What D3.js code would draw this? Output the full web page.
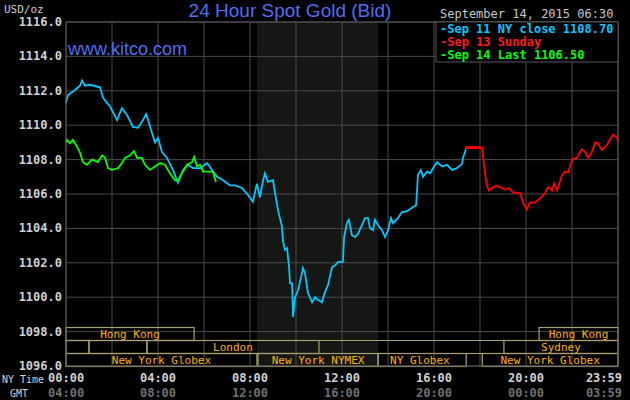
<!DOCTYPE html>
<html><head><meta charset="utf-8">
<script src="https://cdn.jsdelivr.net/npm/d3@7"></script>
<style>body{margin:0;background:#000}svg{display:block}</style>
</head><body><svg id="c" width="630" height="400"></svg>
<script>
// values: [hour of NY day, price]
var sep11 = [[0,1111.3],[.09,1111.75],[.39,1112.05],[.61,1112.3],[.70,1112.6],[.83,1112.3],[1.04,1112.35],[1.48,1112.2],
  [1.61,1111.6],[1.78,1111.3],[1.91,1111.1],[2.22,1110.3],[2.43,1111.0],[2.65,1110.6],[2.91,1109.9],[3.13,1109.85],
  [3.35,1110.3],[3.48,1110.65],[3.57,1110.3],[3.74,1109.55],[3.87,1109.0],[4.0,1109.25],[4.17,1108.45],[4.39,1108.1],
  [4.65,1107.4],[4.87,1106.65],[5.09,1107.4],[5.3,1107.7],[5.52,1107.5],[5.83,1107.5],[6.13,1107.8],[6.35,1107.4],
  [6.57,1107.0],[6.83,1106.8],[7.13,1106.5],[7.35,1106.5],[7.65,1106.35],[7.91,1105.95],[8.13,1105.55],[8.30,1106.6],
  [8.43,1105.8],[8.57,1106.8],[8.65,1107.2],[8.78,1106.7],[9.0,1106.8],[9.09,1106.05],[9.22,1105.05],[9.39,1104.1],
  [9.43,1103.3],[9.52,1102.75],[9.61,1102.85],[9.65,1102.35],[9.70,1101.75],[9.74,1100.8],[9.83,1100.8],[9.87,1098.85],
  [9.96,1100.0],[10.09,1100.4],[10.26,1101.4],[10.30,1101.7],[10.39,1101.4],[10.52,1100.25],[10.70,1099.7],[10.83,1100.0],
  [10.96,1099.85],[11.13,1099.7],[11.26,1100.3],[11.39,1100.7],[11.57,1101.75],[11.70,1101.85],[11.83,1102.05],[12.04,1102.05],
  [12.09,1103.5],[12.22,1104.35],[12.30,1104.5],[12.43,1103.6],[12.57,1103.5],[12.70,1103.7],[12.87,1104.2],[13.0,1104.6],
  [13.13,1104.6],[13.22,1104.0],[13.35,1103.9],[13.43,1104.5],[13.57,1104.2],[13.74,1103.9],[13.87,1103.5],[14.0,1103.9],
  [14.13,1104.6],[14.22,1104.3],[14.43,1104.6],[14.61,1104.95],[14.83,1105.0],[15.04,1105.2],[15.22,1105.35],[15.26,1106.1],
  [15.30,1107.1],[15.43,1107.4],[15.52,1107.0],[15.70,1107.3],[15.83,1107.2],[15.96,1107.5],[16.13,1107.85],[16.35,1107.6],
  [16.57,1107.7],[16.78,1107.4],[17.0,1107.5],[17.22,1107.75],[17.26,1108.1],[17.39,1108.6]];
var sep13flat = [[17.35,1108.7],[18.04,1108.7]];
var sep13 = [[18.04,1108.7],[18.09,1108.7],[18.13,1108.15],[18.22,1107.2],[18.30,1106.5],[18.39,1106.2],[18.52,1106.35],[18.70,1106.5],
  [18.87,1106.4],[19.09,1106.25],[19.26,1106.35],[19.43,1106.1],[19.74,1106.05],[19.87,1105.5],[20.04,1105.1],[20.17,1105.5],
  [20.39,1105.5],[20.61,1105.75],[20.83,1106.05],[20.96,1106.4],[21.13,1106.2],[21.22,1106.6],[21.35,1106.2],[21.57,1107.1],
  [21.70,1107.3],[21.83,1107.25],[21.96,1107.8],[22.04,1108.05],[22.22,1108.1],[22.26,1108.25],[22.43,1108.6],[22.57,1108.45],
  [22.70,1108.1],[22.87,1108.45],[23.0,1109.0],[23.13,1108.95],[23.30,1108.55],[23.52,1108.85],[23.65,1109.15],[23.78,1109.45],
  [23.96,1109.3],[24.0,1109.0]];
var sep14 = [[0,1109.0],[.04,1109.15],[.17,1108.95],[.30,1109.15],[.48,1108.75],[.61,1108.4],[.74,1107.85],[.91,1107.7],[1.13,1108.0],
  [1.39,1107.85],[1.57,1108.25],[1.70,1108.1],[1.83,1107.5],[2.0,1107.4],[2.26,1107.5],[2.43,1107.8],[2.57,1108.1],[2.78,1108.25],
  [2.96,1108.5],[3.09,1108.1],[3.30,1108.1],[3.43,1107.7],[3.65,1107.4],[3.87,1107.6],[4.09,1107.8],[4.30,1107.7],[4.52,1107.2],
  [4.74,1106.8],[4.87,1106.8],[5.04,1107.2],[5.26,1107.7],[5.48,1107.85],[5.57,1108.15],[5.70,1107.6],[5.83,1107.7],[5.96,1107.3],
  [6.17,1107.3],[6.39,1107.3],[6.52,1106.7]];
var priceTicks = [1096,1098,1100,1102,1104,1106,1108,1110,1112,1114,1116];
var nyLabels = ["00:00","04:00","08:00","12:00","16:00","20:00","23:59"];
var gmtLabels = ["04:00","08:00","12:00","16:00","20:00","00:00","03:59"];
var nymexShade = [8.3, 13.57];
// session boxes: [row, start hour, end hour, label]
var sessions = [[0,0,5.57,"Hong Kong"],[0,20.57,24,"Hong Kong"],
  [1,0,1.0,""],[1,1.0,3.52,""],[1,3.52,11.0,"London"],[1,19.04,24,"Sydney"],
  [2,0,8.3,"New York Globex"],[2,8.35,13.57,"New York NYMEX"],[2,13.57,17.4,"NY Globex"],[2,18.1,24,"New York Globex"]];
var legend = [["Sep 11 NY close 1108.70","#00c8ff"],["Sep 13 Sunday","#ff1a1a"],["Sep 14 Last 1106.50","#00ff00"]];

var svg = d3.select("#c");
var L = 66, R = 618, T = 22, B = 366;
var x = d3.scaleLinear().domain([0,24]).range([L,R]);
var y = d3.scaleLinear().domain([1096,1116]).range([B,T]);
var mono = "'DejaVu Sans Mono', monospace";

svg.append("rect").attr("width",630).attr("height",400).attr("fill","#000");
svg.append("rect").attr("x",x(nymexShade[0])).attr("y",T).attr("width",x(nymexShade[1])-x(nymexShade[0]))
  .attr("height",B-T).attr("fill","#141714");

var g = svg.append("g");
g.selectAll(".hg").data(priceTicks).enter().append("line")
  .attr("x1",L).attr("x2",R).attr("y1",d=>y(d)).attr("y2",d=>y(d)).attr("stroke","#4a4a4a");
g.selectAll(".vg").data(d3.range(0,25,2)).enter().append("line")
  .attr("x1",d=>x(d)).attr("x2",d=>x(d)).attr("y1",T).attr("y2",B).attr("stroke","#4a4a4a");

// sessions
var rowH = 13, rowTop = 327.5;
g.selectAll(".rl").data([1,2]).enter().append("line")
  .attr("x1",L).attr("x2",R).attr("y1",d=>rowTop+rowH*d).attr("y2",d=>rowTop+rowH*d)
  .attr("stroke","#a8a070");
var s = g.selectAll(".s").data(sessions).enter().append("g");
s.append("rect").attr("x",d=>x(d[1])).attr("y",d=>rowTop+rowH*d[0]).attr("width",d=>x(d[2])-x(d[1]))
  .attr("height",rowH).attr("fill","none").attr("stroke","#a8a070").attr("stroke-width",1.2);
s.append("text").attr("x",d=>d[3]=="NY Globex"?x(d[1])+12:(x(d[1])+x(d[2]))/2).attr("y",d=>rowTop+rowH*d[0]+10.5)
  .attr("text-anchor",d=>d[3]=="NY Globex"?"start":"middle")
  .attr("fill","#ffb000").attr("font-family",mono).attr("font-size",11).text(d=>d[3]);

// series
var line = d3.line().x(d=>x(d[0])).y(d=>y(d[1]));
svg.append("path").datum(sep11).attr("d",line).attr("fill","none").attr("stroke","#00c8ff").attr("stroke-width",1.8);
svg.append("path").datum(sep14).attr("d",line).attr("fill","none").attr("stroke","#00ff00").attr("stroke-width",1.8);
svg.append("path").datum(sep13flat).attr("d",line).attr("fill","none").attr("stroke","#ff0000").attr("stroke-width",3);
svg.append("path").datum(sep13).attr("d",line).attr("fill","none").attr("stroke","#ff0000").attr("stroke-width",1.8);

// frame
svg.append("rect").attr("x",L).attr("y",T).attr("width",R-L).attr("height",B-T).attr("fill","none").attr("stroke","#555");

// y axis labels
svg.selectAll(".yl").data(priceTicks).enter().append("text").attr("x",L-4).attr("y",d=>y(d)+4)
  .attr("text-anchor","end").attr("fill","#d0d0d0").attr("font-family",mono).attr("font-weight","bold")
  .attr("font-size",12).text(d=>d.toFixed(1));
svg.append("text").attr("x",4).attr("y",13).attr("fill","#d0d0d0").attr("font-family",mono).attr("font-size",11).text("USD/oz");

// x labels
var xt = [0,4,8,12,16,20,24];
svg.selectAll(".xl").data(xt).enter().append("text").attr("x",d=>x(d)).attr("y",382)
  .attr("text-anchor",(d,i)=>i==0?"start":i==6?"end":"middle").attr("dx",(d,i)=>i==0?-18:i==6?4:0)
  .attr("fill","#d0d0d0").attr("font-family",mono).attr("font-weight","bold").attr("font-size",12).text((d,i)=>nyLabels[i]);
svg.selectAll(".gl").data(xt).enter().append("text").attr("x",d=>x(d)).attr("y",397)
  .attr("text-anchor",(d,i)=>i==0?"start":i==6?"end":"middle").attr("dx",(d,i)=>i==0?-18:i==6?4:0)
  .attr("fill","#707070").attr("font-family",mono).attr("font-weight","bold").attr("font-size",12).text((d,i)=>gmtLabels[i]);
svg.append("text").attr("x",2).attr("y",383).attr("fill","#d0d0d0").attr("font-family",mono).attr("font-size",10).text("NY Time");
svg.append("text").attr("x",10).attr("y",397).attr("fill","#d0d0d0").attr("font-family",mono).attr("font-size",10).text("GMT");

// title
svg.append("text").attr("x",290).attr("y",17).attr("text-anchor","middle").attr("fill","#4f6ff0")
  .attr("font-family","'Liberation Sans', Arial, sans-serif").attr("font-size",19).text("24 Hour Spot Gold (Bid)");
svg.append("text").attr("x",68).attr("y",55).attr("fill","#4f6ff0")
  .attr("font-family","'Liberation Sans', Arial, sans-serif").attr("font-size",18).text("www.kitco.com");

// legend
svg.append("text").attr("x",440).attr("y",18).attr("fill","#c8c8c8").attr("font-family",mono).attr("font-size",12)
  .text("September 14, 2015 06:30");
svg.append("rect").attr("x",436).attr("y",22).attr("width",182).attr("height",40).attr("fill","#000").attr("stroke","#555");
svg.selectAll(".lg").data(legend).enter().append("text").attr("x",440).attr("y",(d,i)=>33+i*13)
  .attr("fill",d=>d[1]).attr("font-family",mono).attr("font-weight","bold").attr("font-size",12).text(d=>"-"+d[0]);
</script></body></html>
